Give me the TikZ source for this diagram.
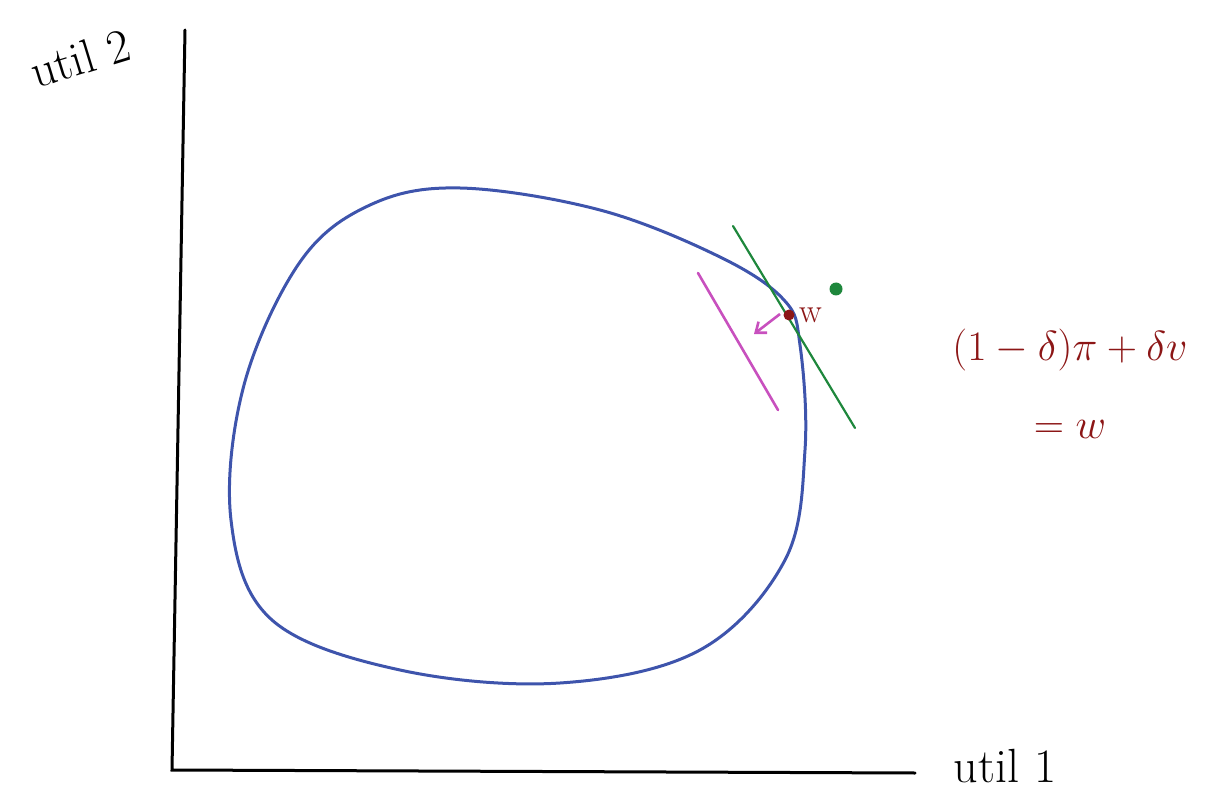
\RequirePackage{fix-cm}
\documentclass[tikz,border=0pt]{standalone}
\usepackage{tikz}
\usetikzlibrary{
	arrows.meta,
	positioning
}
\definecolor{setblue}{RGB}{62,84,172}
\definecolor{tangentgreen}{RGB}{30,135,60}
\definecolor{pushpink}{RGB}{200,80,190}
\definecolor{darkred}{RGB}{140,22,22}

\begin{document}
\begin{tikzpicture}[
				x=1pt, y=-1pt,
				axis/.style={line width=3pt, black, line cap=round},
				axislabel/.style={font=\fontsize{48}{56}\selectfont, black},
				frontier/.style={line width=3pt, setblue},
				tangent/.style={line width=2.2pt, tangentgreen, line cap=round},
				shifted/.style={line width=2.6pt, pushpink, line cap=round},
				pusharrow/.style={-{Straight Barb[length=9pt,width=14pt]}, line width=2.6pt, pushpink},
				dot/.style={circle, inner sep=0pt, minimum size=#1},
				formula/.style={font=\fontsize{42}{50}\selectfont, text=darkred}
				]
				\useasboundingbox (0,0) rectangle (1205,794);
				
				% axes
				\coordinate (origin) at (172,770);
				\coordinate (ytop) at (185,30);
				\coordinate (xend) at (915,773);
				\draw[axis] (ytop) -- (origin) -- (xend);
				
				% axis labels
				\node[axislabel, rotate=17] (ylabel) at (80,58) {util 2};
				\node[axislabel] (xlabel) at (1005,766) {util 1};
				
				% feasible set
				\draw[frontier] plot[smooth cycle, tension=0.6] coordinates {
					(300,262) (370,205) (460,188) (600,210) (720,257) (784,300)
					(800,345) (805,450) (785,560) (700,650) (560,683) (400,670)
					(272,620) (231,520) (244,385)};
				
				% tangent line
				\coordinate (greenA) at (733,226);
				\coordinate (greenB) at (855,428);
				\draw[tangent] (greenA) -- (greenB);
				
				% shifted line
				\coordinate (pinkA) at (698,273);
				\coordinate (pinkB) at (778,410);
				\draw[shifted] (pinkA) -- (pinkB);
				
				% points
				\node[dot=13pt, fill=tangentgreen] (target) at (836,289) {};
				\node[dot=11pt, fill=darkred] (w) at (789,315) {};
				\node[font=\fontsize{34}{38}\selectfont, text=darkred, right=1pt of w] (wlabel) {w};
				
				% arrow
				\coordinate (arrowtip) at (754,334);
				\draw[pusharrow] (780,314) -- (arrowtip);
				
				% formula
				\node[formula] (mix) at (1070,350) {$(1-\delta)\pi+\delta v$};
				\node[formula, below=42pt of mix] (eqw) {$=w$};
			\end{tikzpicture}
\end{document}
